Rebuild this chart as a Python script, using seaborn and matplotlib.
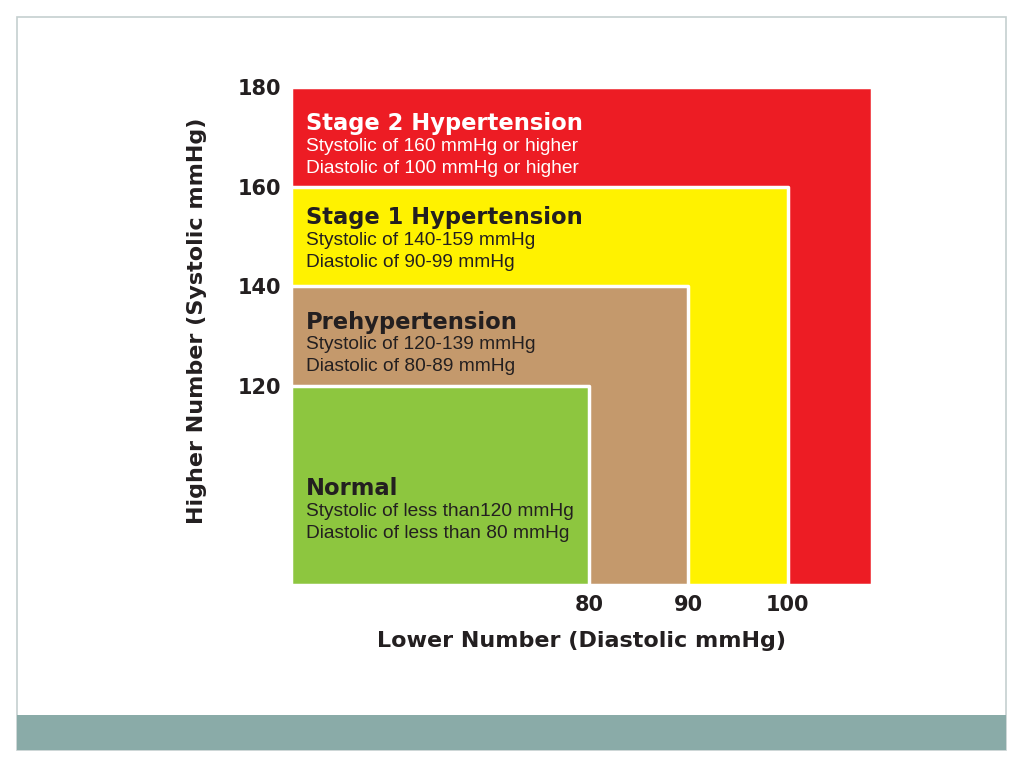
import numpy as np
import pandas as pd
import seaborn as sns
import matplotlib.pyplot as plt
from matplotlib.patches import Rectangle

# blood pressure categories (upper limits of each zone)
categories = ['Stage 2 Hypertension', 'Stage 1 Hypertension', 'Prehypertension', 'Normal']
diastolic_max = [108.5, 100, 90, 80]
systolic_max = [180, 160, 140, 120]
line1 = ['Stystolic of 160 mmHg or higher', 'Stystolic of 140-159 mmHg',
         'Stystolic of 120-139 mmHg', 'Stystolic of less than120 mmHg']
line2 = ['Diastolic of 100 mmHg or higher', 'Diastolic of 90-99 mmHg',
         'Diastolic of 80-89 mmHg', 'Diastolic of less than 80 mmHg']
x_ticks = [80, 90, 100]
y_ticks = [120, 140, 160, 180]
x_min, y_min = 50, 80

df = pd.DataFrame({'category': categories, 'dia': diastolic_max, 'sys': systolic_max,
                   'line1': line1, 'line2': line2})

colors = ['#ED1C24', '#FFF200', '#C4996C', '#8DC63F']
text_colors = ['white', '#231F20', '#231F20', '#231F20']
title_y = [172.6, 153.7, 132.8, 99.3]   # layout only

sns.set_style('white')
plt.rcParams['font.family'] = ['DejaVu Sans']

fig = plt.figure(figsize=(10.24, 7.68), dpi=100)

# slide frame and footer band
fig.add_artist(Rectangle((17/1024, 1-750/768), 989/1024, 733/768, transform=fig.transFigure,
                         facecolor='white', edgecolor='#C5CFCF', lw=1.2, zorder=0))
fig.add_artist(Rectangle((17/1024, 1-750/768), 989/1024, 35/768, transform=fig.transFigure,
                         facecolor='#8AABA8', edgecolor='none', zorder=1))

ax = fig.add_axes([291/1024, 1-585/768, 581/1024, 498/768])

for i, row in df.iterrows():
    ax.fill_between([x_min, row['dia']], y_min, row['sys'], color=colors[i],
                    edgecolor='white', lw=2.5, zorder=i+1)
    ax.text(51.5, title_y[i], row['category'], color=text_colors[i], fontsize=16.3,
            fontweight='bold', va='center', ha='left', zorder=10)
    ax.text(51.5, title_y[i]-4.6, row['line1'], color=text_colors[i], fontsize=13.8,
            family='Liberation Sans', va='center', ha='left', zorder=10)
    ax.text(51.5, title_y[i]-9.0, row['line2'], color=text_colors[i], fontsize=13.8,
            family='Liberation Sans', va='center', ha='left', zorder=10)

ax.set_xlim(x_min, 108.5)
ax.set_ylim(y_min, 180)
ax.set_xticks(x_ticks)
ax.set_yticks(y_ticks)
ax.tick_params(length=0, labelsize=15, pad=7, colors='#231F20')
for lab in ax.get_xticklabels() + ax.get_yticklabels():
    lab.set_fontweight('bold')
for s in ax.spines.values():
    s.set_visible(False)

ax.set_xlabel('Lower Number (Diastolic mmHg)', fontsize=16, fontweight='bold',
              color='#231F20', labelpad=12)
ax.set_ylabel('Higher Number (Systolic mmHg)', fontsize=16, fontweight='bold',
              color='#231F20')
ax.yaxis.set_label_coords(-0.145, 0.53)

fig.savefig('out.png', dpi=100)
